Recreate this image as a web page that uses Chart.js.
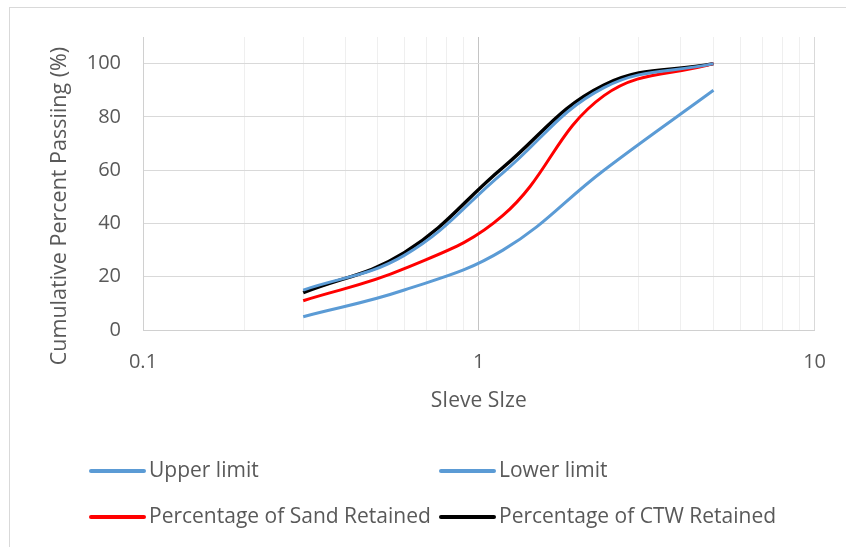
<!DOCTYPE html>
<html>
<head>
<meta charset="utf-8">
<script src="https://cdn.jsdelivr.net/npm/chart.js@4"></script>
<style>
html,body{margin:0;padding:0;background:#fff;}
#wrap{position:relative;width:846px;height:547px;}
</style>
</head>
<body>
<div id="wrap"><canvas id="c" width="846" height="547"></canvas></div>
<script>
// ---- data ----
const sieveSizes = [0.3, 0.6, 1.18, 2.36, 5];
const upperLimit = [15, 28, 59, 91, 100];
const lowerLimit = [5, 15, 30, 60, 90];
const sandRetained = [11, 23, 43, 88, 100];
const ctwRetained = [14, 29, 61, 92, 100];
const seriesNames = ['Upper limit', 'Lower limit', 'Percentage of Sand Retained', 'Percentage of CTW Retained'];
const seriesColors = ['#5B9BD5', '#5B9BD5', '#FF0000', '#000000'];
const xTickValues = [0.1,0.2,0.3,0.4,0.5,0.6,0.7,0.8,0.9,1,2,3,4,5,6,7,8,9,10];
const xTickLabels = {0.1:'0.1', 1:'1', 10:'10'};
const yTickValues = [0,20,40,60,80,100];
const xTitle = 'SIeve SIze';
const yTitle = 'Cumulative Percent Passiing (%)';

const FONT = '"Open Sans", "Noto Sans", sans-serif';
const TXT = '#595959';

function pts(arr){ return sieveSizes.map((s,i)=>({x:s,y:arr[i]})); }
const seriesData = [upperLimit, lowerLimit, sandRetained, ctwRetained];

const datasets = seriesData.map((d,i)=>({
  label: seriesNames[i],
  data: pts(d),
  borderColor: seriesColors[i],
  backgroundColor: seriesColors[i],
  borderWidth: i===3 ? 3.5 : 3,
  pointRadius: 0,
  tension: 0.4,
  fill: false
}));

const framePlugin = {
  id:'frame',
  beforeDraw(chart){
    const ctx = chart.ctx;
    ctx.save();
    ctx.strokeStyle = '#d9d9d9';
    ctx.lineWidth = 1;
    ctx.strokeRect(9.5, 7.5, 900, 600);
    ctx.restore();
  },
  afterDraw(chart){
    const ctx = chart.ctx;
    ctx.save();
    // y title
    ctx.fillStyle = TXT;
    ctx.font = '21.5px ' + FONT;
    ctx.textAlign = 'center';
    ctx.textBaseline = 'middle';
    ctx.translate(60, 206);
    ctx.rotate(-Math.PI/2);
    ctx.fillText(yTitle, 0, 0);
    ctx.restore();
    // legend
    ctx.save();
    const cols = [91, 441];
    const rows = [471, 517];
    chart.data.datasets.forEach((ds,i)=>{
      const x = cols[i%2], y = rows[Math.floor(i/2)];
      ctx.strokeStyle = ds.borderColor;
      ctx.lineWidth = 4;
      ctx.lineCap = 'round';
      ctx.beginPath();
      ctx.moveTo(x, y); ctx.lineTo(x+53, y);
      ctx.stroke();
      ctx.fillStyle = TXT;
      ctx.font = '21px ' + FONT;
      ctx.textAlign = 'left';
      ctx.textBaseline = 'middle';
      ctx.fillText(ds.label, x+58, y);
    });
    ctx.restore();
  }
};

new Chart(document.getElementById('c'), {
  type: 'line',
  data: { datasets },
  plugins: [framePlugin],
  options: {
    responsive: false,
    animation: false,
    events: [],
    layout: { padding: { left: 0, top: 37, right: 29, bottom: 127 } },
    plugins: { legend: { display: false }, tooltip: { enabled: false } },
    scales: {
      x: {
        type: 'logarithmic',
        min: 0.1, max: 10,
        afterBuildTicks(s){ s.ticks = xTickValues.map(v=>({value:v})); },
        afterFit(s){ s.height = 90; },
        ticks: {
          autoSkip: false, maxRotation: 0, minRotation: 0,
          padding: 20,
          color: TXT,
          font: { family: FONT, size: 20 },
          callback(v){ return xTickLabels[v] !== undefined ? xTickLabels[v] : ''; }
        },
        grid: {
          drawTicks: false,
          color(ctx){ const v = ctx.tick && ctx.tick.value; return (v===1) ? '#c4c4c4' : (v===10 ? '#d9d9d9' : '#efefef'); },
          lineWidth: 1
        },
        border: { display: true, color: '#d0d0d0', width: 1 },
        title: {
          display: true, text: xTitle, color: TXT,
          font: { family: FONT, size: 21 },
          padding: { top: 0, bottom: 6 }
        }
      },
      y: {
        min: 0, max: 110,
        afterBuildTicks(s){ s.ticks = yTickValues.map(v=>({value:v})); },
        afterFit(s){ s.width = 143; },
        ticks: {
          padding: 22, color: TXT,
          font: { family: FONT, size: 20 }
        },
        grid: { drawTicks: false, color: '#d9d9d9', lineWidth: 1 },
        border: { display: true, color: '#d0d0d0', width: 1 }
      }
    }
  }
});
</script>
</body>
</html>
